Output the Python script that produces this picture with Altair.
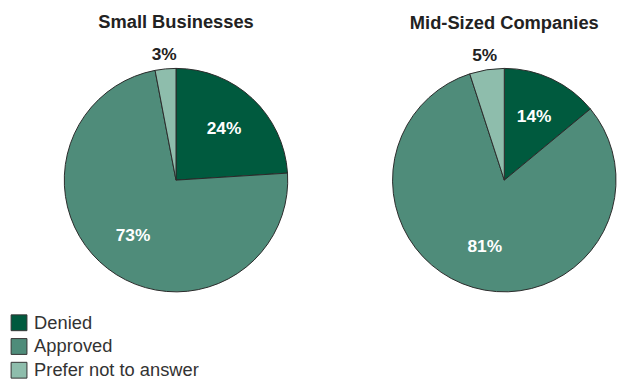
import math
import altair as alt
import pandas as pd

groups = ["Small Businesses", "Mid-Sized Companies"]
categories = ["Denied", "Approved", "Prefer not to answer"]
small_values = [24, 73, 3]
mid_values = [14, 81, 5]
colors = ["#005a3e", "#4f8c7a", "#8ebdac"]

rows = []
for g, vals in zip(groups, [small_values, mid_values]):
    for i, (c, v) in enumerate(zip(categories, vals)):
        rows.append({"group": g, "category": c, "value": v, "order": i})
df = pd.DataFrame(rows)

FONT = "Liberation Sans"


def pie(g, show_legend):
    base = (
        alt.Chart(df)
        .transform_filter(alt.datum.group == g)
        .transform_calculate(label="datum.value + '%'")
        .encode(
            theta=alt.Theta("value:Q", stack=True),
            order=alt.Order("order:Q"),
        )
    )
    color_kwargs = dict(
        scale=alt.Scale(domain=categories, range=colors),
        sort=categories,
    )
    if show_legend:
        color_kwargs["legend"] = alt.Legend(
            title=None,
            orient="none",
            legendX=-55,
            legendY=248,
            symbolType="square",
            symbolSize=256,
            symbolStrokeColor="#333333",
            symbolStrokeWidth=1,
            symbolOpacity=1,
            labelFontSize=18.5,
            labelFont=FONT,
            labelColor="#333333",
            labelOffset=6,
            labelLimit=300,
            rowPadding=3,
        )
    arcs = base.mark_arc(stroke="#2a2a2a", strokeWidth=1).encode(
        color=alt.Color("category:N", **color_kwargs)
    )
    inner = base.mark_text(
        radius=71, font=FONT, fontSize=17.5, fontWeight="bold", color="white"
    ).encode(text=alt.condition(alt.datum.value >= 10, "label:N", alt.value("")))
    outer = base.mark_text(
        radius=127, font=FONT, fontSize=17.5, fontWeight="bold", color="#222222"
    ).encode(text=alt.condition(alt.datum.value < 10, "label:N", alt.value("")))
    return alt.layer(arcs, inner, outer).properties(
        width=226,
        height=226,
        title=alt.TitleParams(
            g,
            font=FONT,
            fontSize=18.5,
            fontWeight="bold",
            color="#222222",
            anchor="middle",
            offset=15,
        ),
    )


chart = (
    alt.hconcat(pie(groups[0], True), pie(groups[1], True), spacing=102)
    .resolve_legend(color="shared")
    .properties(padding={"left": 10, "top": 11, "right": 0, "bottom": 0})
    .configure_view(stroke=None)
)

chart.save("out.html", embed_options={"renderer": "svg", "actions": False})
